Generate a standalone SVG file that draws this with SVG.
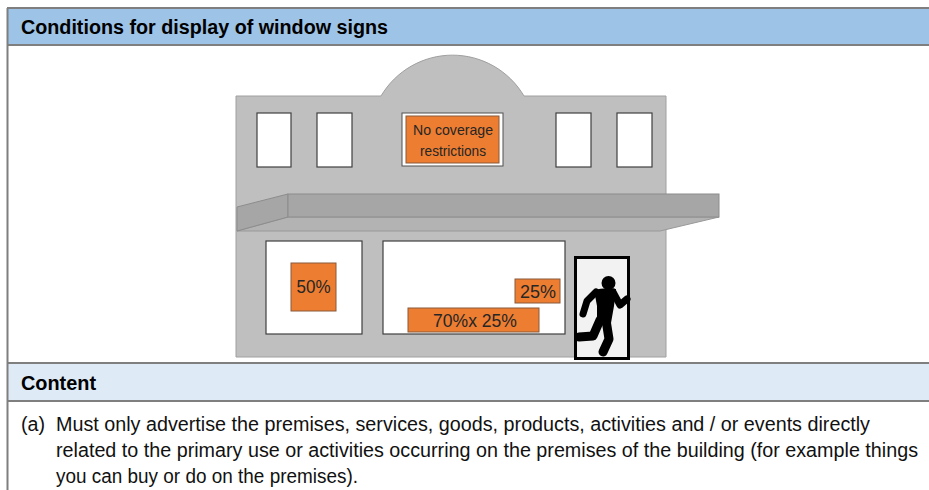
<svg xmlns="http://www.w3.org/2000/svg" width="929" height="490" viewBox="0 0 929 490">
  <style>
    .hdr { font-family: "Liberation Sans Narrow", "Liberation Sans", Arial, sans-serif; font-weight: bold; font-size: 20px; fill: #000; }
    .body { font-family: "Liberation Sans Narrow", "Liberation Sans", Arial, sans-serif; font-size: 20px; fill: #111; }
    .sign { font-family: "Liberation Sans Narrow", "Liberation Sans", Arial, sans-serif; fill: #262626; text-anchor: middle; }
    .rule { stroke: #7f7f7f; stroke-width: 2; fill: none; }
    .wall { fill: #bfbfbf; stroke: #a0a0a0; stroke-width: 1; }
    .win { fill: #ffffff; stroke: #404040; stroke-width: 1.2; }
    .orange { fill: #ed7d31; stroke: #8a5a3a; stroke-width: 1; }
    .limb { stroke: #000; stroke-linecap: round; stroke-linejoin: round; fill: none; }
  </style>

  <!-- table frame and header bands -->
  <g id="table">
    <rect x="7" y="9" width="922" height="36" fill="#9dc3e6"/>
    <rect x="7" y="364" width="922" height="37" fill="#deebf7"/>
    <line class="rule" x1="7" y1="8" x2="929" y2="8"/>
    <line class="rule" x1="7" y1="45" x2="929" y2="45"/>
    <line class="rule" x1="7" y1="363" x2="929" y2="363"/>
    <line class="rule" x1="7" y1="401" x2="929" y2="401"/>
    <line class="rule" x1="7.5" y1="8" x2="7.5" y2="490"/>
    <text class="hdr" x="21" y="34" textLength="367" lengthAdjust="spacingAndGlyphs">Conditions for display of window signs</text>
    <text class="hdr" x="21" y="390" textLength="75" lengthAdjust="spacingAndGlyphs">Content</text>
  </g>

  <!-- shopfront -->
  <g id="building">
    <path class="wall" d="M236,96 L381,96 A83,83 0 0 1 524,96 L666,96 L666,357 L236,357 Z"/>
  </g>

  <g id="upper-windows">
    <rect class="win" x="257" y="113" width="34" height="54"/>
    <rect class="win" x="317" y="113" width="35" height="54"/>
    <rect class="win" x="556" y="113" width="35" height="54"/>
    <rect class="win" x="617" y="113" width="35" height="54"/>
  </g>

  <g id="sign-top">
    <rect x="402" y="113" width="101" height="53" fill="#ffffff" stroke="#505050" stroke-width="1"/>
    <rect class="orange" x="406" y="116" width="93" height="47"/>
    <text class="sign" x="453" y="135" font-size="15" textLength="80" lengthAdjust="spacingAndGlyphs">No coverage</text>
    <text class="sign" x="453" y="156" font-size="15" textLength="66" lengthAdjust="spacingAndGlyphs">restrictions</text>
  </g>

  <!-- awning -->
  <g id="awning">
    <polygon points="288,217 719,217 660,231 237,231" fill="#b3b3b3" stroke="#999" stroke-width="1"/>
    <polygon points="237,207 288,194 288,217 237,231" fill="#a6a6a6" stroke="#8c8c8c" stroke-width="1"/>
    <rect x="288" y="194" width="431" height="23" fill="#a6a6a6" stroke="#8c8c8c" stroke-width="1"/>
  </g>

  <g id="window-left">
    <rect class="win" x="266" y="241" width="96" height="93"/>
    <rect class="orange" x="291" y="263" width="45" height="48"/>
    <text class="sign" x="313.5" y="293" font-size="18" textLength="34" lengthAdjust="spacingAndGlyphs">50%</text>
  </g>

  <g id="window-main">
    <rect class="win" x="383" y="241" width="182" height="93"/>
    <rect class="orange" x="515" y="279" width="45" height="24"/>
    <text class="sign" x="538" y="297.5" font-size="18" textLength="36" lengthAdjust="spacingAndGlyphs">25%</text>
    <rect class="orange" x="408" y="308" width="131" height="24"/>
    <text class="sign" x="475" y="326.5" font-size="18" textLength="84" lengthAdjust="spacingAndGlyphs">70%x 25%</text>
  </g>

  <!-- exit door with running figure -->
  <g id="door">
    <rect x="575.5" y="257.5" width="53" height="101" fill="#f2f2f2" stroke="#000" stroke-width="3"/>
    <circle cx="608.5" cy="283" r="7" fill="#000"/>
    <path d="M594,290 Q605,287 616,289 L614,306 L611,323 Q604,327 597,324 L597,306 Z" fill="#000"/>
    <path class="limb" stroke-width="7" d="M613,292 L620,305 L627,299"/>
    <path class="limb" stroke-width="7" d="M596,292 L587,301 L583,314"/>
    <path class="limb" stroke-width="9" d="M600,320 L593,336 L579,337"/>
    <path class="limb" stroke-width="9" d="M606,320 L609,339 L603,352"/>
  </g>

  <!-- body text -->
  <g id="content-text">
    <text class="body" x="21" y="431" textLength="24" lengthAdjust="spacingAndGlyphs">(a)</text>
    <text class="body" x="56" y="431" textLength="814" lengthAdjust="spacingAndGlyphs">Must only advertise the premises, services, goods, products, activities and / or events directly</text>
    <text class="body" x="56" y="457" textLength="862" lengthAdjust="spacingAndGlyphs">related to the primary use or activities occurring on the premises of the building (for example things</text>
    <text class="body" x="56" y="483" textLength="302" lengthAdjust="spacingAndGlyphs">you can buy or do on the premises).</text>
  </g>
</svg>
